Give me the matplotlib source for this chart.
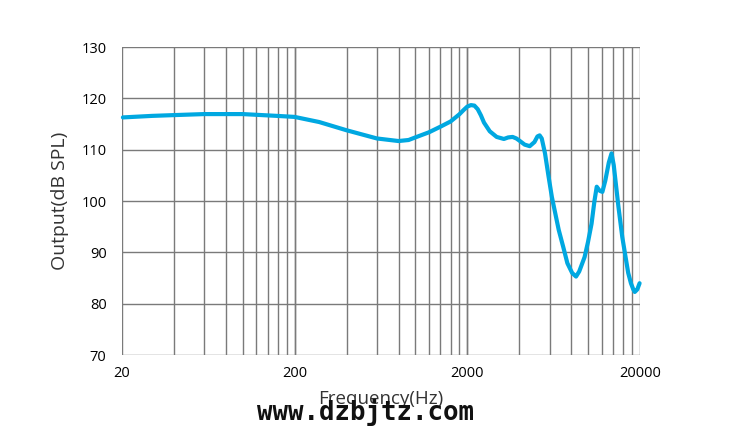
import numpy as np
import matplotlib
matplotlib.use('agg')
import matplotlib.pyplot as plt
from matplotlib.ticker import FixedLocator, NullLocator

# frequency response
freq = [20.3, 30, 40, 60, 100, 158, 200, 278, 400, 600, 800, 915, 1000, 1200,
        1400, 1600, 1800, 1900, 2000, 2100, 2200, 2300, 2400, 2500, 2700, 2960,
        3260, 3450, 3660, 3850, 4000, 4300, 4600, 4900, 5100, 5250, 5400, 5640,
        5900, 6180, 6770, 7200, 7600, 8100, 8530, 8900, 9560, 10000, 10490,
        10900, 11240, 11700, 12120, 12600, 13200, 13690, 14100, 15010, 15800,
        16490, 17100, 17730, 18300, 18660, 19300, 19900]
spl = [116.3, 116.6, 116.75, 116.95, 116.95, 116.6, 116.4, 115.4, 113.8, 112.2,
       111.7, 111.9, 112.4, 113.4, 114.5, 115.5, 116.9, 117.7, 118.4, 118.7,
       118.6, 117.9, 116.7, 115.3, 113.6, 112.5, 112.1, 112.4, 112.5, 112.2,
       111.8, 111.0, 110.7, 111.5, 112.6, 112.8, 112.2, 109.3, 105.0, 100.8,
       94.4, 91.0, 87.9, 86.0, 85.3, 86.3, 89.1, 92.0, 95.6, 100.0, 102.8,
       102.0, 101.8, 104.0, 107.5, 109.3, 107.0, 98.9, 93.0, 89.2, 86.0, 84.0,
       82.8, 82.3, 82.8, 84.0]

x_ticks = [20, 200, 2000, 20000]
x_ticklabels = ['20', '200', '2000', '20000']
y_ticks = [70, 80, 90, 100, 110, 120, 130]
grid_x = [m * d for d in (20, 200, 2000) for m in range(1, 11)]

fig = plt.figure(figsize=(7.35, 4.32), dpi=100)
ax = fig.add_axes([0.1657, 0.178, 0.7050, 0.713])

ax.plot(freq, spl, color='#00a8e1', lw=3.0, solid_capstyle='round',
        solid_joinstyle='round', zorder=3, clip_on=False)

ax.set_xscale('log')
ax.set_xlim(20, 20000)
ax.set_ylim(70, 130)
ax.xaxis.set_major_locator(FixedLocator(x_ticks))
ax.xaxis.set_minor_locator(NullLocator())
ax.set_xticklabels(x_ticklabels)
ax.set_yticks(y_ticks)

for g in grid_x:
    ax.axvline(g, color='#7a7a7a', lw=1.0, zorder=1)
for g in y_ticks:
    ax.axhline(g, color='#7a7a7a', lw=1.0, zorder=1)

for s in ax.spines.values():
    s.set_visible(False)

ax.tick_params(length=0, labelsize=10.5, pad=8)
for lab in ax.get_xticklabels() + ax.get_yticklabels():
    lab.set_fontfamily('Open Sans')
ax.tick_params(axis='y', pad=11)

ax.set_ylabel('Output(dB SPL)', fontsize=14, family='Open Sans', color='#333333', labelpad=9)
ax.set_xlabel('Frequency(Hz)', fontsize=13.5, family='Open Sans', color='#333333', labelpad=6)

fig.text(0.497, 0.045, 'www.dzbjtz.com', ha='center', va='center', fontsize=18.5,
         family='DejaVu Sans Mono', weight='bold', color='#111111')

fig.savefig('out.png', dpi=100)
